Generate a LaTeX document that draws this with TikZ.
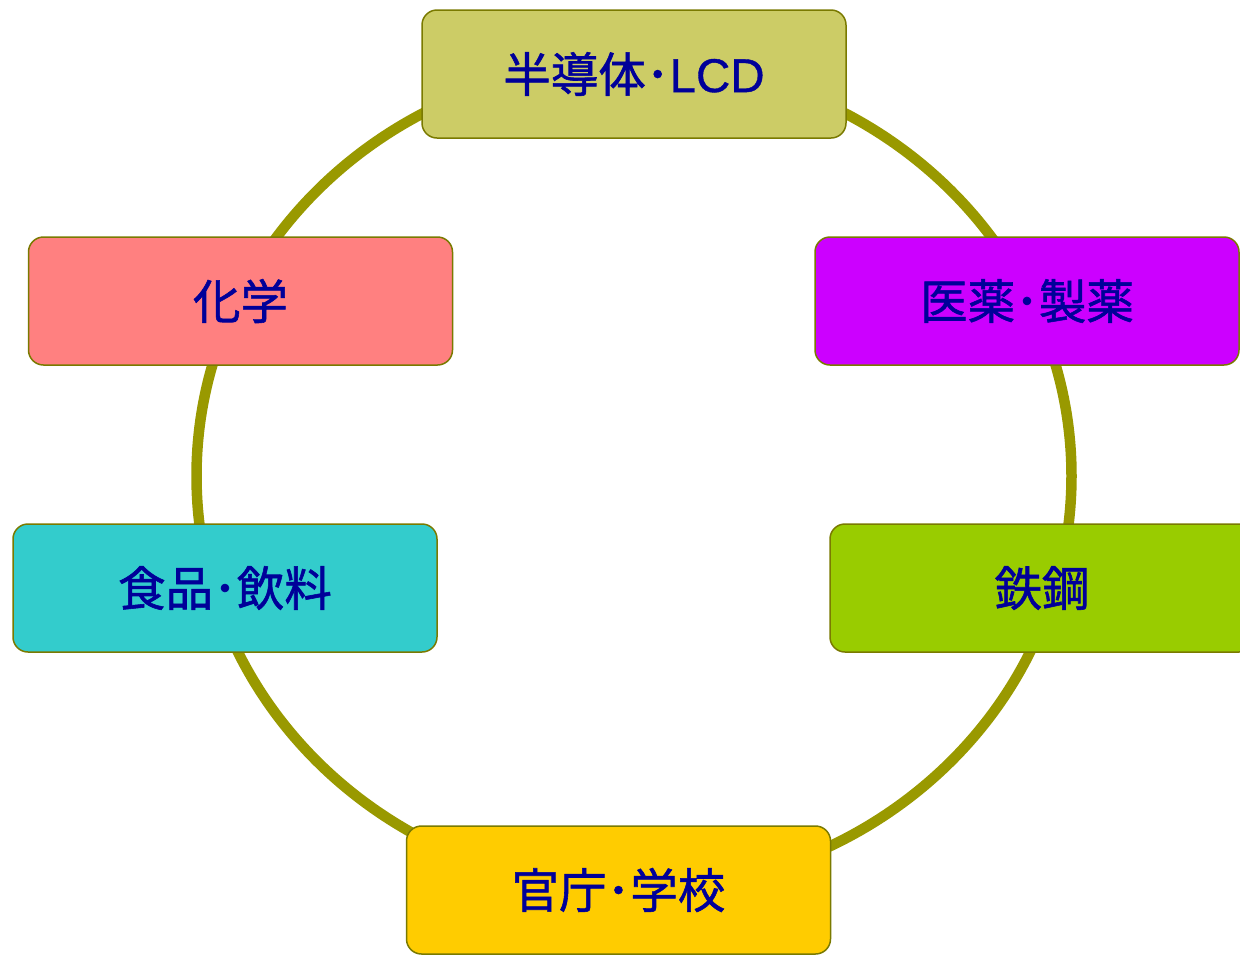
\documentclass[tikz,border=0pt]{standalone}
\usepackage{fontspec}
\setmainfont{Liberation Sans}[FakeBold=0.8]
\newfontfamily\jpfont{Noto Sans CJK JP}[FakeBold=1.2]
\definecolor{ringcol}{HTML}{999900}
\definecolor{edgecol}{HTML}{7A7A00}
\definecolor{txtcol}{HTML}{000099}
\definecolor{cA}{HTML}{CCCC66}
\definecolor{cB}{HTML}{FF8080}
\definecolor{cC}{HTML}{CC00FF}
\definecolor{cD}{HTML}{33CCCC}
\definecolor{cE}{HTML}{99CC00}
\definecolor{cF}{HTML}{FFCC00}
\newcommand{\jp}[1]{{\jpfont #1}}
\begin{document}
\begin{tikzpicture}[x=1pt,y=-1pt,
  sector/.style={draw=edgecol, line width=1.5pt, rounded corners=15pt,
    minimum width=424pt, minimum height=128pt, inner sep=0pt,
    text=txtcol, font=\fontsize{47.5}{50}\selectfont},
  ring/.style={draw=ringcol, line width=10.5pt}]
\useasboundingbox (0,0) rectangle (1240,954);
\clip (0,0) rectangle (1240,954);
\draw[ring] (634,476) ellipse [x radius=437.5, y radius=414];
\node[sector, fill=cA] (semi)  at (634,74)   {\jp{半導体･}LCD};
\node[sector, fill=cB] (chem)  at (240.5,301) {\jp{化学}};
\node[sector, fill=cC] (pharm) at (1027,301) {\jp{医薬･製薬}};
\node[sector, fill=cD] (food)  at (225,588)  {\jp{食品･飲料}};
\node[sector, fill=cE] (steel) at (1042,588) {\jp{鉄鋼}};
\node[sector, fill=cF] (gov)   at (618.5,890) {\jp{官庁･学校}};
\end{tikzpicture}
\end{document}
